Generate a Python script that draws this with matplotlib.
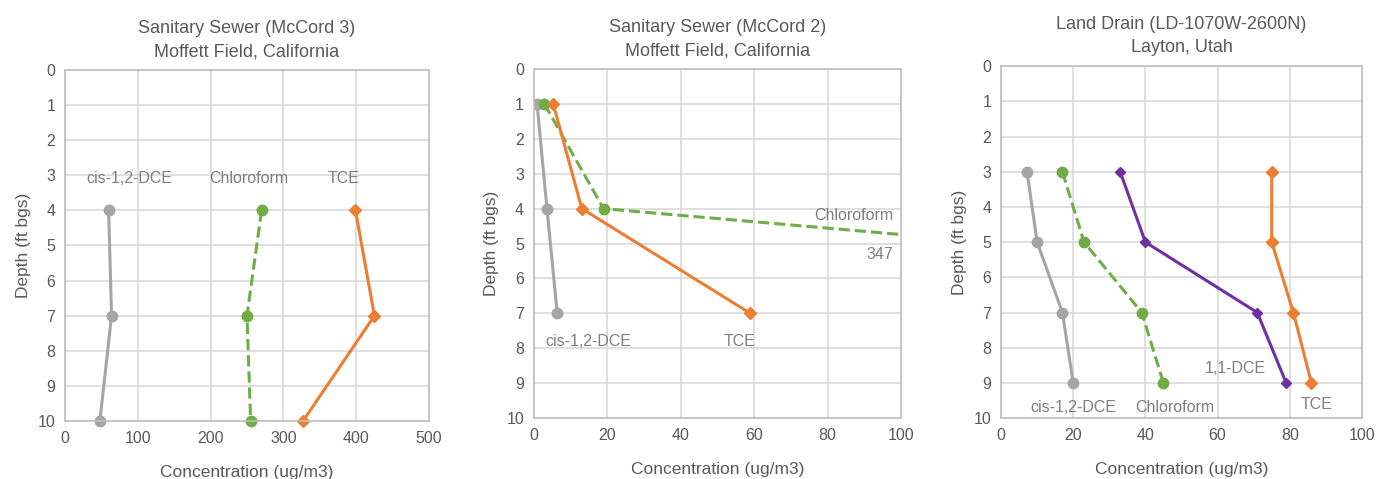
import matplotlib
matplotlib.use('Agg')
import matplotlib.pyplot as plt

plt.rcParams['font.family'] = ['Liberation Sans', 'DejaVu Sans']

# Panel 1 - Sanitary Sewer (McCord 3)
p1_depth = [4, 7, 10]
p1_cis = [60, 64, 48]
p1_chloroform = [270, 250, 255]
p1_tce = [399, 425, 327]

# Panel 2 - Sanitary Sewer (McCord 2)
p2_depth = [1, 4, 7]
p2_cis = [0.9, 3.6, 6.4]
p2_chloroform = [2.9, 19, 347]
p2_tce = [5.3, 13.1, 59]

# Panel 3 - Land Drain
p3_depth = [3, 5, 7, 9]
p3_cis = [7.2, 10, 17, 20]
p3_chloroform = [17, 23, 39, 45]
p3_dce11 = [33, 40, 71, 79]
p3_tce = [75, 75, 81, 86]

titles = ['Sanitary Sewer (McCord 3)\nMoffett Field, California',
          'Sanitary Sewer (McCord 2)\nMoffett Field, California',
          'Land Drain (LD-1070W-2600N)\nLayton, Utah']
xmax = [500, 100, 100]
xstep = [100, 20, 20]

GRAY = '#A5A5A5'
GREEN = '#70AD47'
ORANGE = '#ED7D31'
PURPLE = '#7030A0'
TXT = '#7F7F7F'
LAB = '#595959'

fig = plt.figure(figsize=(13.76, 4.79), dpi=100)
boxes = [(0.0472, 0.121, 0.2646, 0.733),
         (0.3879, 0.127, 0.2669, 0.729),
         (0.7275, 0.127, 0.2623, 0.735)]
axes = [fig.add_axes(b) for b in boxes]

for ax, t, xm, xs in zip(axes, titles, xmax, xstep):
    ax.set_xlim(0, xm)
    ax.set_ylim(10, 0)
    ax.set_xticks(range(0, xm + 1, xs))
    ax.set_yticks(range(0, 11))
    ax.grid(True, color='#D9D9D9', lw=1.2)
    ax.set_axisbelow(True)
    for s in ax.spines.values():
        s.set_color('#BFBFBF')
        s.set_linewidth(1.2)
    ax.tick_params(length=0, colors=LAB, labelsize=11.5, pad=7)
    ax.set_title(t, fontsize=13, color=LAB, pad=10, linespacing=1.45)
    ax.set_xlabel('Concentration (ug/m3)', fontsize=12.5, color=LAB, labelpad=14)
    ax.set_ylabel('Depth (ft bgs)', fontsize=12.5, color=LAB, labelpad=5)

circ = dict(lw=2.2, ms=7.5, marker='o')
diam = dict(lw=2.2, ms=6.5, marker='D')

# Panel 1
ax = axes[0]
ax.plot(p1_cis, p1_depth, color=GRAY, clip_on=False, **circ)
ax.plot(p1_chloroform, p1_depth, color=GREEN, ls='--', clip_on=False, **circ)
ax.plot(p1_tce, p1_depth, color=ORANGE, clip_on=False, **diam)
ax.text(88, 3.1, 'cis-1,2-DCE', ha='center', va='center', fontsize=11.5, color=TXT)
ax.text(252, 3.1, 'Chloroform', ha='center', va='center', fontsize=11.5, color=TXT)
ax.text(382, 3.1, 'TCE', ha='center', va='center', fontsize=11.5, color=TXT)

# Panel 2
ax = axes[1]
ax.plot(p2_cis, p2_depth, color=GRAY, **circ)
ax.plot(p2_chloroform, p2_depth, color=GREEN, ls='--', **circ)
ax.plot(p2_tce, p2_depth, color=ORANGE, **diam)
ax.text(98, 4.2, 'Chloroform', ha='right', va='center', fontsize=11.5, color=TXT)
ax.text(98, 5.3, '347', ha='right', va='center', fontsize=11.5, color=TXT)
ax.text(14.9, 7.8, 'cis-1,2-DCE', ha='center', va='center', fontsize=11.5, color=TXT)
ax.text(56, 7.8, 'TCE', ha='center', va='center', fontsize=11.5, color=TXT)

# Panel 3
ax = axes[2]
ax.plot(p3_cis, p3_depth, color=GRAY, **circ)
ax.plot(p3_chloroform, p3_depth, color=GREEN, ls='--', **circ)
ax.plot(p3_dce11, p3_depth, color=PURPLE, lw=2.2, ms=5.5, marker='D')
ax.plot(p3_tce, p3_depth, color=ORANGE, **diam)
ax.text(64.8, 8.58, '1,1-DCE', ha='center', va='center', fontsize=11.5, color=TXT)
ax.text(87.4, 9.6, 'TCE', ha='center', va='center', fontsize=11.5, color=TXT)
ax.text(20, 9.7, 'cis-1,2-DCE', ha='center', va='center', fontsize=11.5, color=TXT)
ax.text(48.2, 9.7, 'Chloroform', ha='center', va='center', fontsize=11.5, color=TXT)

fig.savefig('out.png', dpi=100)
